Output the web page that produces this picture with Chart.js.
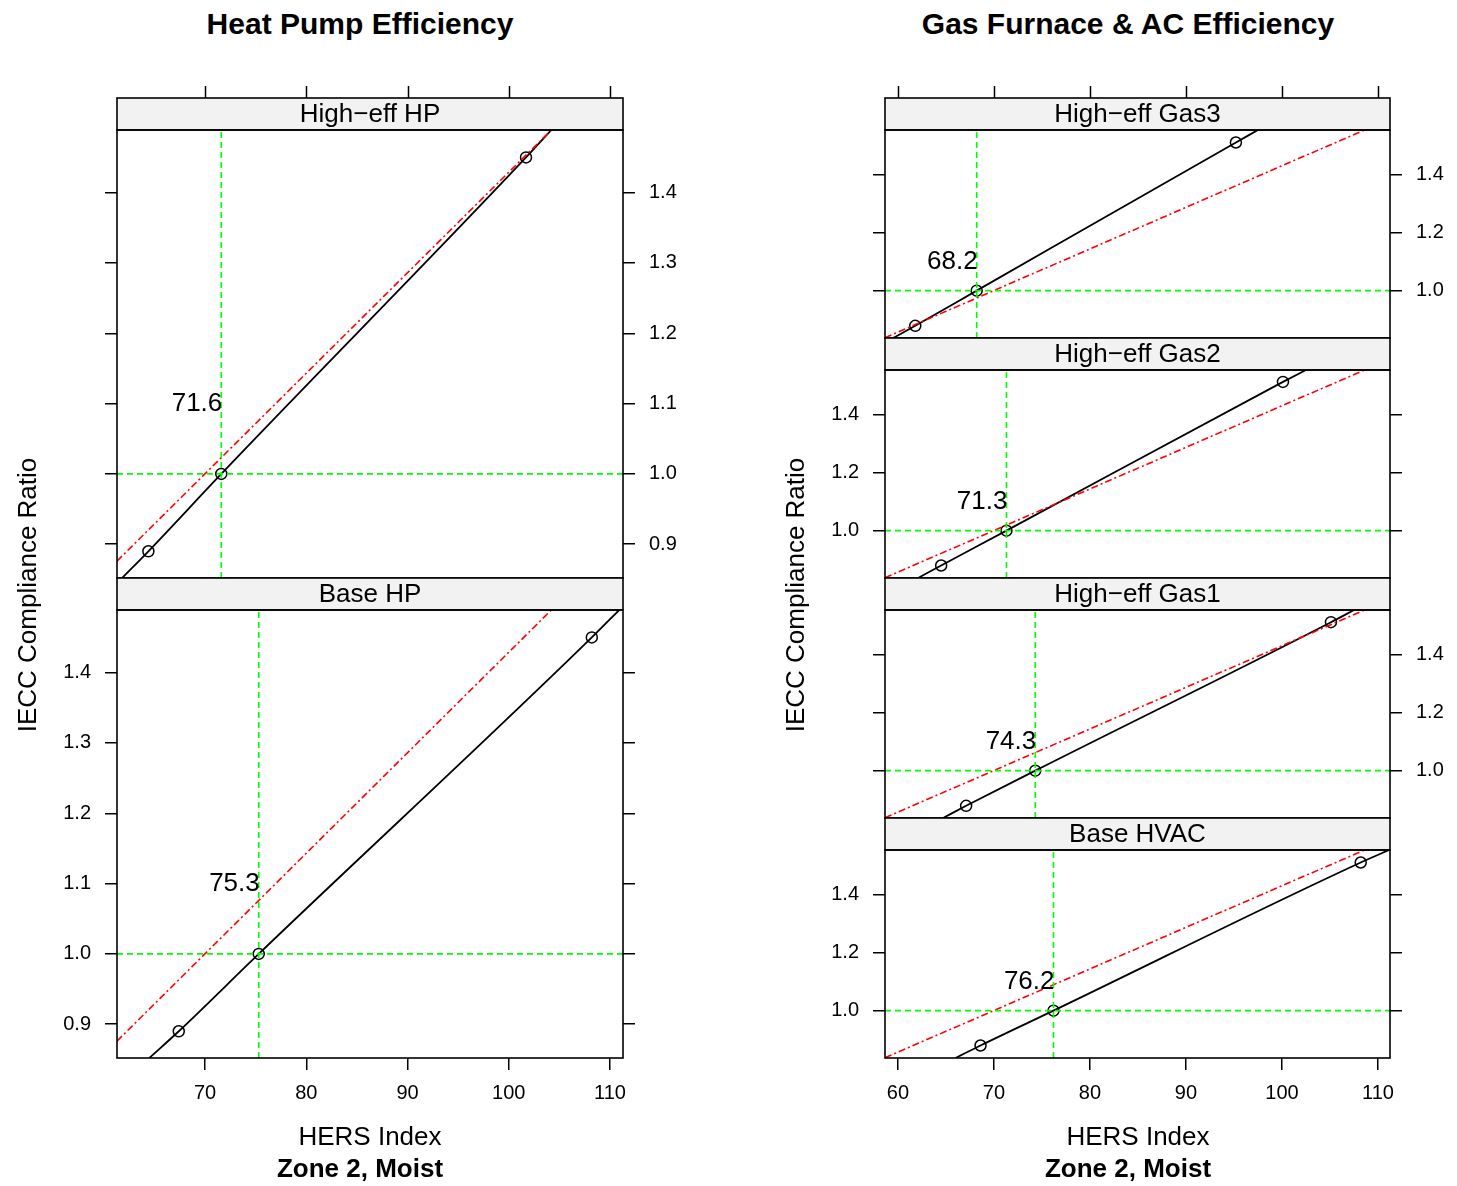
<!DOCTYPE html>
<html><head><meta charset="utf-8">
<script src="https://cdn.jsdelivr.net/npm/chart.js@4.4.1/dist/chart.umd.min.js"></script>
<style>
body{margin:0;background:#fff;width:1457px;height:1186px;position:relative;overflow:hidden;font-family:"Liberation Sans",Arial,Helvetica,sans-serif;}
canvas{position:absolute;}
.t{position:absolute;text-align:center;white-space:nowrap;color:#000;width:600px;}
.b{font-weight:bold;}
.rot{transform:rotate(-90deg);transform-origin:50% 50%;}
</style></head><body>
<script>
// ---------------- data ----------------
const pageTitles = ['Heat Pump Efficiency', 'Gas Furnace & AC Efficiency'];
const xTitle = 'HERS Index';
const yTitle = 'IECC Compliance Ratio';
const subTitle = 'Zone 2, Moist';

const xTicksLeft = [70, 80, 90, 100, 110];
const xTickLabelsLeft = ['70', '80', '90', '100', '110'];
const xTicksRight = [60, 70, 80, 90, 100, 110];
const xTickLabelsRight = ['60', '70', '80', '90', '100', '110'];
const yTicksLeft = [0.9, 1.0, 1.1, 1.2, 1.3, 1.4];
const yTickLabelsLeft = ['0.9', '1.0', '1.1', '1.2', '1.3', '1.4'];
const yTicksRight = [1.0, 1.2, 1.4];
const yTickLabelsRight = ['1.0', '1.2', '1.4'];
const xRangeLeft = [61.3, 111.28];
const yRangeLeft = [0.852, 1.489];
const xRangeRight = [58.65, 111.25];
const yRangeRight = [0.837, 1.553];

// Heat pump panels (top to bottom)
const hpPanels = ['High\u2212eff HP', 'Base HP'];
const hpPointX = [[64.4, 71.6, 101.7], [67.4, 75.3, 108.2]];
const hpPointY = [[0.89, 1.0, 1.45], [0.89, 1.0, 1.45]];
const hpCurveX = [[61.8, 64.4, 71.6, 101.7, 104.2], [64.5, 67.4, 75.3, 108.2, 110.9]];
const hpCurveY = [[0.852, 0.89, 1.0, 1.45, 1.489], [0.852, 0.89, 1.0, 1.45, 1.489]];
const hpCross = [71.6, 75.3];
const hpCrossLabels = ['71.6', '75.3'];
const hpRefX = [61.3, 104.2];
const hpRefY = [0.876, 1.489];

// Gas furnace panels (top to bottom)
const gasPanels = ['High\u2212eff Gas3', 'High\u2212eff Gas2', 'High\u2212eff Gas1', 'Base HVAC'];
const gasPointX = [[61.8, 68.2, 95.2], [64.5, 71.3, 100.1], [67.1, 74.3, 105.1], [68.6, 76.2, 108.2]];
const gasPointY = [[0.879, 1.0, 1.51], [0.88, 1.0, 1.512], [0.879, 1.0, 1.511], [0.88, 1.0, 1.51]];
const gasCurveX = [[59.5, 61.8, 68.2, 95.2, 97.5], [62.1, 64.5, 71.3, 100.1, 102.5], [64.7, 67.1, 74.3, 105.1, 107.5], [66.0, 68.6, 76.2, 108.2, 111.3]];
const gasCurveY = [[0.837, 0.879, 1.0, 1.51, 1.553], [0.837, 0.88, 1.0, 1.512, 1.553], [0.837, 0.879, 1.0, 1.511, 1.553], [0.837, 0.88, 1.0, 1.51, 1.555]];
const gasCross = [68.2, 71.3, 74.3, 76.2];
const gasCrossLabels = ['68.2', '71.3', '74.3', '76.2'];
const gasRefX = [58.65, 108.6];
const gasRefY = [0.838, 1.553];

const crossLevel = 1.0;
const crossLabelY = 1.1;

// ---------------- layout ----------------
const FONT = '"Liberation Sans", Arial, Helvetica, sans-serif';
Chart.defaults.font.family = FONT;
const STRIP = 32, TOPTK = 14, SIDE = 100, BOTTOM = 60, TL = 12;

function addText(txt, cx, cy, size, bold, rot) {
  const d = document.createElement('div');
  d.className = 't' + (bold ? ' b' : '') + (rot ? ' rot' : '');
  d.textContent = txt;
  d.style.fontSize = size + 'px';
  d.style.lineHeight = (size + 6) + 'px';
  d.style.height = (size + 6) + 'px';
  d.style.left = (cx - 300) + 'px';
  d.style.top = (cy - (size + 6) / 2) + 'px';
  document.body.appendChild(d);
}

const deco = {
  id: 'deco',
  afterDraw(chart, args, o) {
    const ctx = chart.ctx, a = chart.chartArea;
    const xs = chart.scales.x, ys = chart.scales.y;
    ctx.save();
    // strip
    ctx.fillStyle = '#F2F2F2';
    ctx.fillRect(a.left, a.top - STRIP, a.right - a.left, STRIP);
    ctx.strokeStyle = '#000';
    ctx.lineWidth = 1.6;
    ctx.strokeRect(a.left, a.top - STRIP, a.right - a.left, STRIP);
    ctx.fillStyle = '#000';
    ctx.font = '26px ' + FONT;
    ctx.textAlign = 'center';
    ctx.textBaseline = 'middle';
    ctx.fillText(o.name, (a.left + a.right) / 2, a.top - STRIP / 2 + 1);
    // panel box
    ctx.strokeRect(a.left, a.top, a.right - a.left, a.bottom - a.top);
    // top ticks
    if (o.first) {
      ctx.beginPath();
      o.xTicks.forEach(v => {
        if (v < xs.min || v > xs.max) return;
        const px = Math.round(xs.getPixelForValue(v)) + 0.5;
        ctx.moveTo(px, a.top - STRIP);
        ctx.lineTo(px, a.top - STRIP - TL);
      });
      ctx.lineWidth = 1.5;
      ctx.stroke();
    }
    // crossing label
    ctx.font = '26px ' + FONT;
    ctx.textAlign = 'right';
    ctx.textBaseline = 'middle';
    ctx.fillText(o.label, xs.getPixelForValue(o.cross) + 1, ys.getPixelForValue(crossLabelY));
    ctx.restore();
  }
};

function makePanel(p) {
  const plotW = p.plotRight - p.plotLeft;
  const W = plotW + 2 * SIDE;
  let H = TOPTK + STRIP + p.plotH + (p.last ? BOTTOM : 3);
  const cv = document.createElement('canvas');
  cv.style.left = (p.plotLeft - SIDE) + 'px';
  cv.style.top = (p.stripTop - TOPTK) + 'px';
  document.body.appendChild(cv);

  const lineDs = (data, color, width, dash) => ({
    data, showLine: true, borderColor: color, borderWidth: width, borderDash: dash,
    pointRadius: 0, fill: false, tension: 0
  });
  const datasets = [
    lineDs([{ x: p.xRange[0], y: crossLevel }, { x: p.xRange[1], y: crossLevel }], '#00FF00', 1.6, [6, 4]),
    lineDs([{ x: p.cross, y: p.yRange[0] }, { x: p.cross, y: p.yRange[1] }], '#00FF00', 1.6, [6, 4]),
    lineDs(p.refX.map((x, i) => ({ x, y: p.refY[i] })), '#FF0000', 1.6, [7, 3, 2, 3]),
    Object.assign(lineDs(p.curveX.map((x, i) => ({ x, y: p.curveY[i] })), '#000000', 1.8, []), { cubicInterpolationMode: 'monotone' }),
    {
      data: p.pointX.map((x, i) => ({ x, y: p.pointY[i] })), showLine: false,
      pointRadius: 5.5, pointStyle: 'circle', pointBorderColor: '#000', pointBackgroundColor: 'rgba(0,0,0,0)',
      pointBorderWidth: 1.5
    }
  ];
  const grid = { drawOnChartArea: false, drawTicks: true, tickLength: TL, color: '#000', lineWidth: 1.5 };
  const yAxis = (pos, showLabels) => ({
    type: 'linear', position: pos, min: p.yRange[0], max: p.yRange[1], display: true,
    afterBuildTicks: s => { s.ticks = p.yTicks.map(v => ({ value: v })); },
    afterFit: s => { s.width = SIDE; s.paddingTop = 0; s.paddingBottom = 0; },
    grid, border: { display: false },
    ticks: {
      display: showLabels, color: '#000', font: { size: 20, family: FONT }, padding: 14,
      autoSkip: false, callback: (v, i) => p.yLabels[i]
    }
  });
  const config = {
    type: 'scatter',
    data: { datasets },
    options: {
      responsive: false, maintainAspectRatio: false, animation: false, devicePixelRatio: 1, events: [],
      layout: { padding: { top: TOPTK + STRIP, bottom: p.last ? 0 : 3, left: 0, right: 0 } },
      plugins: { legend: { display: false }, tooltip: { enabled: false },
        deco: { name: p.name, first: p.first, xTicks: p.xTicks, cross: p.cross, label: p.label } },
      scales: {
        x: {
          type: 'linear', position: 'bottom', min: p.xRange[0], max: p.xRange[1], display: p.last,
          afterBuildTicks: s => { s.ticks = p.xTicks.filter(v => v >= p.xRange[0] && v <= p.xRange[1]).map(v => ({ value: v })); },
          afterFit: s => { s.height = p.last ? BOTTOM : 0; s.paddingLeft = 0; s.paddingRight = 0; },
          grid, border: { display: false },
          ticks: {
            color: '#000', font: { size: 20, family: FONT }, padding: 11, maxRotation: 0, autoSkip: false,
            callback: (v) => p.xLabels[p.xTicks.indexOf(v)]
          }
        },
        y: yAxis('left', p.labelSide === 'left'),
        y2: yAxis('right', p.labelSide === 'right')
      }
    },
    plugins: [deco]
  };
  const build = () => {
    cv.width = W; cv.height = H;
    cv.style.width = W + 'px'; cv.style.height = H + 'px';
    return new Chart(cv, config);
  };
  let chart = build();
  // make sure the plotting area ends exactly at the panel's bottom edge
  const want = TOPTK + STRIP + p.plotH;
  const d = Math.round(want - chart.chartArea.bottom);
  if (d !== 0) {
    chart.destroy();
    H += d;
    chart = build();
  }
}

// left column
hpPanels.forEach((name, i) => {
  makePanel({
    name, pointX: hpPointX[i], pointY: hpPointY[i], curveX: hpCurveX[i], curveY: hpCurveY[i],
    cross: hpCross[i], label: hpCrossLabels[i], refX: hpRefX, refY: hpRefY,
    xRange: xRangeLeft, yRange: yRangeLeft, xTicks: xTicksLeft, xLabels: xTickLabelsLeft,
    yTicks: yTicksLeft, yLabels: yTickLabelsLeft,
    plotLeft: 117, plotRight: 623, stripTop: 98 + i * 480, plotH: 448,
    first: i === 0, last: i === hpPanels.length - 1, labelSide: i % 2 === 0 ? 'right' : 'left'
  });
});
// right column
gasPanels.forEach((name, i) => {
  makePanel({
    name, pointX: gasPointX[i], pointY: gasPointY[i], curveX: gasCurveX[i], curveY: gasCurveY[i],
    cross: gasCross[i], label: gasCrossLabels[i], refX: gasRefX, refY: gasRefY,
    xRange: xRangeRight, yRange: yRangeRight, xTicks: xTicksRight, xLabels: xTickLabelsRight,
    yTicks: yTicksRight, yLabels: yTickLabelsRight,
    plotLeft: 885, plotRight: 1390, stripTop: 98 + i * 240, plotH: 208,
    first: i === 0, last: i === gasPanels.length - 1, labelSide: i % 2 === 0 ? 'right' : 'left'
  });
});

// titles and axis labels
addText(pageTitles[0], 360, 24, 30, true);
addText(pageTitles[1], 1128, 24, 30, true);
addText(xTitle, 370, 1136, 26, false);
addText(xTitle, 1138, 1136, 26, false);
addText(subTitle, 360, 1168, 26, true);
addText(subTitle, 1128, 1168, 26, true);
addText(yTitle, 27, 595, 26, false, true);
addText(yTitle, 795, 595, 26, false, true);
</script>
</body></html>
